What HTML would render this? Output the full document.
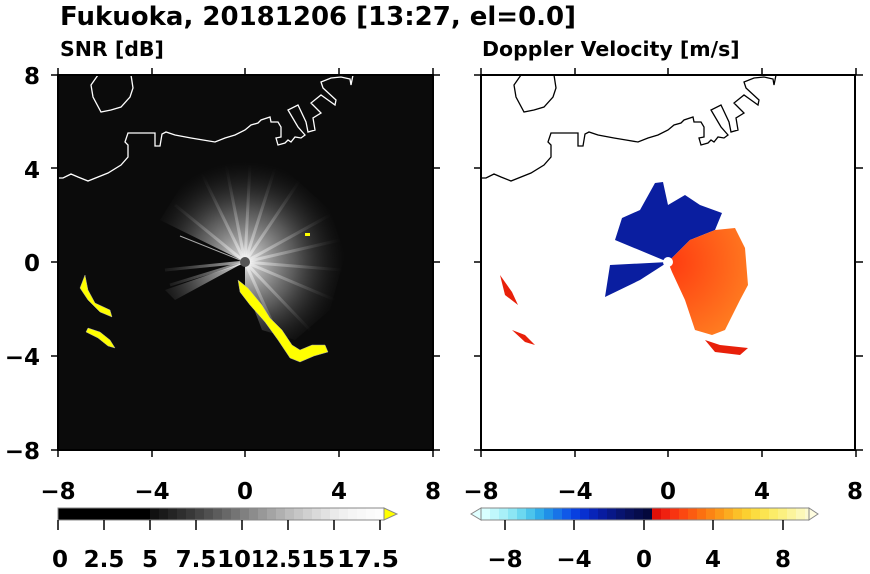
<!DOCTYPE html>
<html><head><meta charset="utf-8"><style>
body{margin:0;background:#fff;width:870px;height:570px;overflow:hidden;font-family:"DejaVu Sans","Liberation Sans",sans-serif;}
svg text{font-family:"DejaVu Sans","Liberation Sans",sans-serif;font-weight:bold;}
</style></head><body>
<svg width="870" height="570" viewBox="0 0 870 570" xmlns="http://www.w3.org/2000/svg">
<defs>
<radialGradient id="spk" cx="245" cy="262" r="100" gradientUnits="userSpaceOnUse">
<stop offset="0" stop-color="#fff" stop-opacity="0.9"/><stop offset="0.5" stop-color="#bbb" stop-opacity="0.45"/><stop offset="1" stop-color="#444" stop-opacity="0"/>
</radialGradient>
<radialGradient id="org" cx="668" cy="262" r="85" gradientUnits="userSpaceOnUse">
<stop offset="0" stop-color="#ff3a10"/><stop offset="1" stop-color="#ff7a20"/>
</radialGradient>
<g id="coast" fill="none" stroke-width="1.3">
<polyline points="58,178 63,178 71,174 78,177 88,181 108,173 121,165 128,157 128,145 125,142 128,133 155,133 155,146 160,146 162,134 166,132 175,135 191,138 203,140 215,142 225,138 235,135 245,130 251,125 258,123 261,120 270,117 271,122 278,122 281,127 281,137 276,138 278,145 285,143 288,140 291,142 295,137 301,138 305,135 298,127 288,110 298,105 306,122 308,132 315,130 313,118 321,113 311,103 321,95 328,100 335,105 336,100 323,88 321,82 331,78 341,77 350,79 351,85 353,75"/>
<polyline points="98,75 91,85 93,97 101,112 111,110 121,107 130,97 133,88 131,75"/>
</g>
</defs>
<text x="60" y="25" font-size="26">Fukuoka, 20181206 [13:27, el=0.0]</text>
<text x="60" y="56" font-size="20.5">SNR [dB]</text>
<text x="482" y="56" font-size="20.5">Doppler Velocity [m/s]</text>
<!-- left panel -->
<rect x="58" y="75" width="375" height="375" fill="#0b0b0b"/>
<path d="M245,262 L160,220 L185,180 L230,160 L280,165 L330,210 L345,255 L330,310 L295,340 L262,330 L245,285 Z" fill="url(#spk)"/>
<path d="M245,262 L165,290 L175,300 Z" fill="url(#spk)"/>
<g stroke="url(#spk)" stroke-width="3" opacity="0.8">
<line x1="245" y1="262" x2="200" y2="170"/><line x1="245" y1="262" x2="225" y2="160"/><line x1="245" y1="262" x2="250" y2="165"/><line x1="245" y1="262" x2="275" y2="168"/><line x1="245" y1="262" x2="300" y2="180"/><line x1="245" y1="262" x2="330" y2="215"/><line x1="245" y1="262" x2="340" y2="240"/><line x1="245" y1="262" x2="342" y2="270"/><line x1="245" y1="262" x2="335" y2="300"/><line x1="245" y1="262" x2="310" y2="330"/><line x1="245" y1="262" x2="280" y2="340"/><line x1="245" y1="262" x2="175" y2="205"/><line x1="245" y1="262" x2="165" y2="270"/><line x1="245" y1="262" x2="170" y2="285"/>
</g>
<line x1="245" y1="262" x2="180" y2="236" stroke="#aaa" stroke-width="1"/>
<circle cx="245" cy="262" r="5" fill="#555"/>
<path d="M238,280 L248,288 L262,305 L270,318 L282,330 L292,345 L300,350 L312,345 L325,345 L328,352 L314,356 L300,362 L290,358 L278,340 L265,322 L250,305 L240,292 Z" fill="#ffff00" stroke="#aaa" stroke-width="0.5"/>
<path d="M85,275 L88,290 L95,303 L110,310 L112,317 L100,312 L88,300 L80,288 Z" fill="#ffff00" stroke="#aaa" stroke-width="0.5"/>
<path d="M88,328 L100,332 L110,340 L115,348 L108,346 L98,338 L86,332 Z" fill="#ffff00" stroke="#aaa" stroke-width="0.5"/>
<rect x="305" y="233" width="5" height="3" fill="#ff0"/>
<use href="#coast" stroke="#fff"/>
<rect x="58" y="75" width="375" height="375" fill="none" stroke="#000" stroke-width="2"/>
<!-- right panel -->
<rect x="481" y="75" width="374" height="375" fill="#fff"/>
<path d="M668,262 L615,240 L622,218 L640,210 L655,183 L663,182 L668,205 L685,195 L700,205 L722,213 L715,230 L690,240 Z" fill="#0a1ea0"/>
<path d="M668,262 L610,265 L605,297 L640,280 Z" fill="#0a1ea0"/>
<path d="M668,262 L690,240 L715,230 L735,228 L745,248 L748,285 L740,300 L725,330 L712,335 L695,330 L685,300 L672,272 Z" fill="url(#org)"/>
<path d="M500,275 L505,295 L518,305 L512,292 Z M512,330 L525,335 L535,345 L525,342 Z M705,340 L720,345 L748,348 L740,355 L715,352 Z" fill="#e8200a"/>
<circle cx="668" cy="262" r="5" fill="#fff"/>
<g transform="translate(423,0)"><use href="#coast" stroke="#000"/></g>
<rect x="481" y="75" width="374" height="375" fill="none" stroke="#000" stroke-width="2"/>
<!-- ticks -->
<g stroke="#000" stroke-width="1.5">
<path d="M58,75v-7M152,75v-7M245,75v-7M339,75v-7M433,75v-7 M58,450v7M152,450v7M245,450v7M339,450v7M433,450v7 M58,75h-7M58,168h-7M58,262h-7M58,356h-7M58,450h-7 M433,75h7M433,168h7M433,262h7M433,356h7M433,450h7"/>
</g>
<g stroke="#000" stroke-width="1.5" transform="translate(423,0)">
<path d="M58,75v-7M152,75v-7M245,75v-7M339,75v-7M433,75v-7 M58,450v7M152,450v7M245,450v7M339,450v7M433,450v7 M58,75h-7M58,168h-7M58,262h-7M58,356h-7M58,450h-7 M433,75h7M433,168h7M433,262h7M433,356h7M433,450h7"/>
</g>
<g font-size="23" text-anchor="end">
<text x="40" y="84">8</text><text x="40" y="178">4</text><text x="40" y="271">0</text><text x="40" y="365">−4</text><text x="40" y="459">−8</text>
</g>
<g font-size="23" text-anchor="middle">
<text x="58" y="499">−8</text><text x="152" y="499">−4</text><text x="245" y="499">0</text><text x="339" y="499">4</text><text x="433" y="499">8</text>
<text x="481" y="499">−8</text><text x="575" y="499">−4</text><text x="668" y="499">0</text><text x="762" y="499">4</text><text x="855" y="499">8</text>
</g>
<!-- SNR colorbar -->
<g>
<rect x="58" y="508" width="92" height="12" fill="#000"/>
<rect x="150" y="508" width="9" height="12" fill="#111"/><rect x="159" y="508" width="9" height="12" fill="#1a1a1a"/><rect x="168" y="508" width="9" height="12" fill="#242424"/><rect x="177" y="508" width="9" height="12" fill="#2e2e2e"/><rect x="186" y="508" width="9" height="12" fill="#383838"/><rect x="195" y="508" width="9" height="12" fill="#444"/><rect x="204" y="508" width="9" height="12" fill="#505050"/><rect x="213" y="508" width="9" height="12" fill="#5c5c5c"/><rect x="222" y="508" width="9" height="12" fill="#686868"/><rect x="231" y="508" width="9" height="12" fill="#747474"/><rect x="240" y="508" width="9" height="12" fill="#808080"/><rect x="249" y="508" width="9" height="12" fill="#8c8c8c"/><rect x="258" y="508" width="9" height="12" fill="#989898"/><rect x="267" y="508" width="9" height="12" fill="#a4a4a4"/><rect x="276" y="508" width="9" height="12" fill="#b0b0b0"/><rect x="285" y="508" width="9" height="12" fill="#bcbcbc"/><rect x="294" y="508" width="9" height="12" fill="#c6c6c6"/><rect x="303" y="508" width="9" height="12" fill="#d0d0d0"/><rect x="312" y="508" width="9" height="12" fill="#dadada"/><rect x="321" y="508" width="9" height="12" fill="#e2e2e2"/><rect x="330" y="508" width="9" height="12" fill="#eaeaea"/><rect x="339" y="508" width="9" height="12" fill="#f0f0f0"/><rect x="348" y="508" width="9" height="12" fill="#f5f5f5"/><rect x="357" y="508" width="9" height="12" fill="#f8f8f8"/><rect x="366" y="508" width="9" height="12" fill="#fbfbfb"/><rect x="375" y="508" width="9" height="12" fill="#fdfdfd"/>
<path d="M384,508 L397,514 L384,520 Z" fill="#ff0" stroke="#888"/>
<rect x="58" y="508" width="326" height="12" fill="none" stroke="#888" stroke-width="1"/>
<path d="M58,520v10M104,520v10M150,520v10M196,520v10M242,520v10M288,520v10M334,520v10M380,520v10" stroke="#000" stroke-width="1.5"/>
</g>
<g font-size="23" text-anchor="middle" textLength="0">
<text x="60" y="567">0</text><text x="104" y="567">2.5</text><text x="150" y="567">5</text><text x="196" y="567">7.5</text><text x="234" y="567" textLength="34" lengthAdjust="spacingAndGlyphs">10</text><text x="276" y="567" textLength="50" lengthAdjust="spacingAndGlyphs">12.5</text><text x="318" y="567" textLength="34" lengthAdjust="spacingAndGlyphs">15</text><text x="368" y="567" textLength="62" lengthAdjust="spacingAndGlyphs">17.5</text>
</g>
<!-- Doppler colorbar -->
<g>
<path d="M481,508 L471,514 L481,520 Z" fill="#e0ffff" stroke="#888"/>
<rect x="481" y="508" width="9" height="12" fill="#d8ffff"/><rect x="490" y="508" width="9" height="12" fill="#c0f8fc"/><rect x="499" y="508" width="9" height="12" fill="#a8f0f8"/><rect x="508" y="508" width="9" height="12" fill="#8ce6f4"/><rect x="517" y="508" width="9" height="12" fill="#6cd8f0"/><rect x="526" y="508" width="9" height="12" fill="#4cc4ec"/><rect x="535" y="508" width="9" height="12" fill="#30acea"/><rect x="544" y="508" width="9" height="12" fill="#2090e8"/><rect x="553" y="508" width="9" height="12" fill="#1874e8"/><rect x="562" y="508" width="9" height="12" fill="#1058e8"/><rect x="571" y="508" width="9" height="12" fill="#0840e0"/><rect x="580" y="508" width="9" height="12" fill="#0830d0"/><rect x="589" y="508" width="9" height="12" fill="#0824b8"/><rect x="598" y="508" width="9" height="12" fill="#081ca0"/><rect x="607" y="508" width="9" height="12" fill="#081888"/><rect x="616" y="508" width="9" height="12" fill="#081470"/><rect x="625" y="508" width="9" height="12" fill="#08105c"/><rect x="634" y="508" width="9" height="12" fill="#060c4c"/><rect x="643" y="508" width="9" height="12" fill="#04083c"/>
<rect x="652" y="508" width="9" height="12" fill="#e01008"/><rect x="661" y="508" width="9" height="12" fill="#f02010"/><rect x="670" y="508" width="9" height="12" fill="#f83410"/><rect x="679" y="508" width="9" height="12" fill="#fc4810"/><rect x="688" y="508" width="9" height="12" fill="#fc5c10"/><rect x="697" y="508" width="9" height="12" fill="#fc7010"/><rect x="706" y="508" width="9" height="12" fill="#fc8414"/><rect x="715" y="508" width="9" height="12" fill="#fc9818"/><rect x="724" y="508" width="9" height="12" fill="#fcac20"/><rect x="733" y="508" width="9" height="12" fill="#fcc028"/><rect x="742" y="508" width="9" height="12" fill="#fcd030"/><rect x="751" y="508" width="9" height="12" fill="#fcdc40"/><rect x="760" y="508" width="9" height="12" fill="#fce450"/><rect x="769" y="508" width="9" height="12" fill="#fcec68"/><rect x="778" y="508" width="9" height="12" fill="#fcf080"/><rect x="787" y="508" width="9" height="12" fill="#fcf49c"/><rect x="796" y="508" width="9" height="12" fill="#fcf8b8"/><rect x="805" y="508" width="4" height="12" fill="#fcfad0"/>
<path d="M809,508 L818,514 L809,520 Z" fill="#fffde0" stroke="#888"/>
<rect x="481" y="508" width="328" height="12" fill="none" stroke="#888" stroke-width="1"/>
<path d="M505,520v10M574,520v10M644,520v10M713,520v10M783,520v10" stroke="#000" stroke-width="1.5"/>
</g>
<g font-size="23" text-anchor="middle">
<text x="505" y="567">−8</text><text x="574" y="567">−4</text><text x="644" y="567">0</text><text x="713" y="567">4</text><text x="783" y="567">8</text>
</g>
</svg>
</body></html>
